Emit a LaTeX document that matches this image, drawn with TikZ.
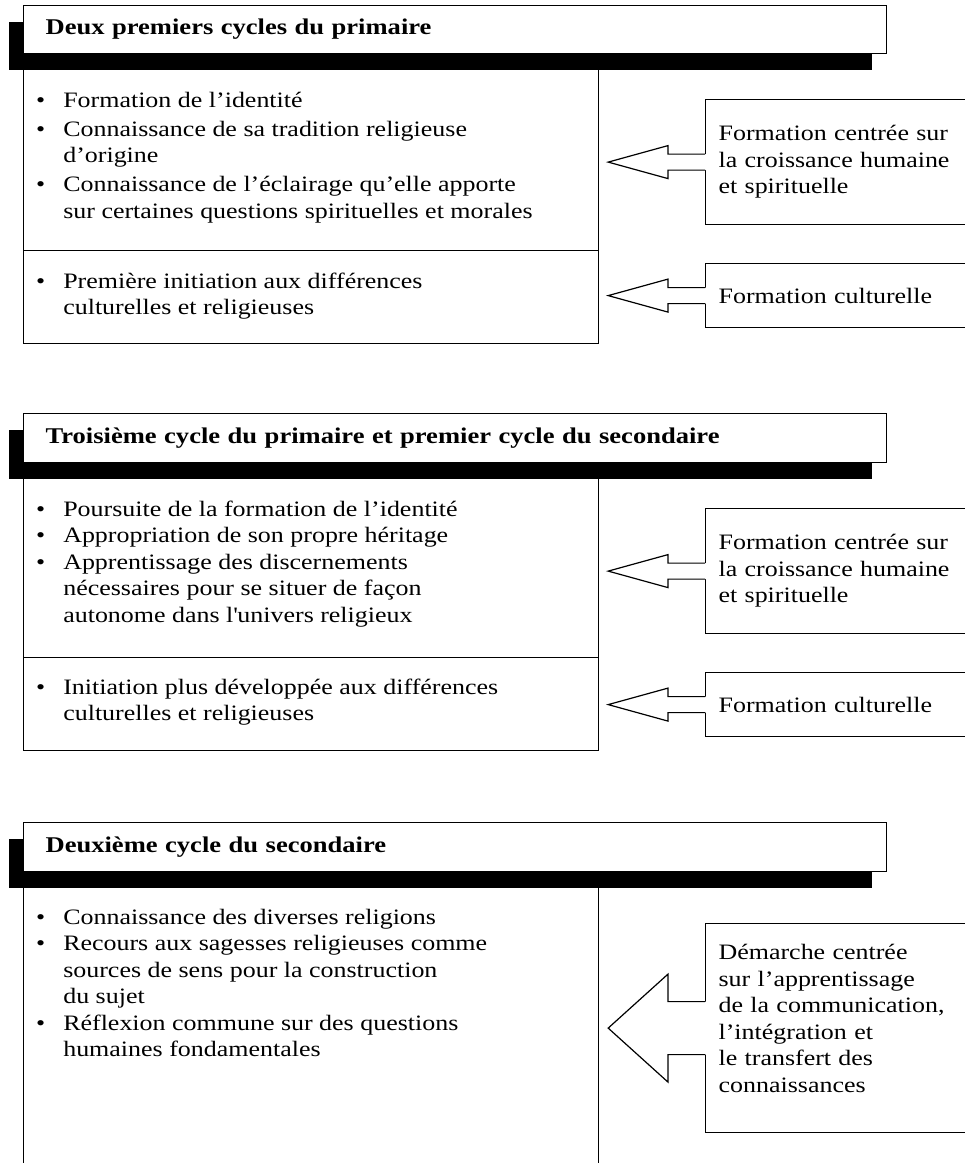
\documentclass[tikz,border=0pt]{standalone}
\usepackage{fontspec}
\setmainfont{Liberation Serif}[FakeStretch=1.18]
\usepackage{tikz}
\usetikzlibrary{calc}
\usetikzlibrary{shadows}
\tikzstyle{titlebox} = [draw, fill=white, line width=1.2pt, anchor=north west, minimum width=863pt, minimum height=48pt, text width=819pt, inner xsep=22pt, align=left, font=\bfseries\fontsize{22.5}{27}\selectfont, drop shadow={shadow xshift=-15pt, shadow yshift=-16pt, fill=black, opacity=1}]
\tikzstyle{part} = [draw, line width=1.2pt, anchor=north west, minimum width=575pt, inner sep=0pt]
\tikzstyle{items} = [anchor=base west, inner sep=0pt, font=\fontsize{22}{26.5}\selectfont]
\tikzstyle{aspect} = [draw, fill=white, line width=1.2pt, anchor=north west, minimum width=280pt, text width=254pt, inner xsep=13pt, align=left, font=\fontsize{22}{26.5}\selectfont]
% open arrow from an aspect box (#1) towards a part of the cycle (#2)
\newcommand{\openarrow}[4]{%
	\fill[white] ($(#1.west)+(1.5,-#4)$) -- ($(#1.west)+(-37,-#4)$) -- ($(#1.west)+(-37,-#3)$)
		-- ($(#2.east |- #1.west)+(9,0)$) -- ($(#1.west)+(-37,#3)$) -- ($(#1.west)+(-37,#4)$)
		-- ($(#1.west)+(1.5,#4)$) -- cycle;
	\draw[line width=1.2pt] ($(#1.west)+(0,-#4)$) -- ($(#1.west)+(-37,-#4)$) -- ($(#1.west)+(-37,-#3)$)
		-- ($(#2.east |- #1.west)+(9,0)$) -- ($(#1.west)+(-37,#3)$) -- ($(#1.west)+(-37,#4)$)
		-- ($(#1.west)+(0,#4)$);}

\begin{document}
\begin{tikzpicture}[x=1pt,y=-1pt]
	\useasboundingbox (0,0) rectangle (965,1163);
	\clip (0,0) rectangle (965,1163);

	% premier bloc
	\node[part, minimum height=181pt] (p1a) at (23,69) {};
	\node[part, minimum height=93pt] (p1b) at (23,250) {};
	\node[titlebox] (h1) at (23,5) {Deux premiers cycles du primaire};
	\node[items] (l1a) at (36,107) {\begin{tabular}[t]{@{}l@{\hspace{18pt}}l@{}}
		\textbullet & Formation de l’identité\\[2.5pt]
		\textbullet & Connaissance de sa tradition religieuse\\
		& d’origine\\[2.5pt]
		\textbullet & Connaissance de l’éclairage qu’elle apporte\\
		& sur certaines questions spirituelles et morales
		\end{tabular}};
	\node[items] (l1b) at (36,288) {\begin{tabular}[t]{@{}l@{\hspace{18pt}}l@{}}
		\textbullet & Première initiation aux différences\\
		& culturelles et religieuses
		\end{tabular}};
	\node[aspect, minimum height=125pt] (r1a) at (705,99) {Formation centrée sur\\la croissance humaine\\et spirituelle};
	\node[aspect, minimum height=64pt] (r1b) at (705,263) {Formation culturelle};
	\openarrow{r1a}{p1a}{16.5}{8}
	\openarrow{r1b}{p1b}{16.5}{8}

	% deuxieme bloc
	\node[part, minimum height=179pt] (p2a) at (23,478) {};
	\node[part, minimum height=93pt] (p2b) at (23,657) {};
	\node[titlebox, minimum height=49pt] (h2) at (23,413) {Troisième cycle du primaire et premier cycle du secondaire};
	\node[items] (l2a) at (36,516) {\begin{tabular}[t]{@{}l@{\hspace{18pt}}l@{}}
		\textbullet & Poursuite de la formation de l’identité\\
		\textbullet & Appropriation de son propre héritage\\
		\textbullet & Apprentissage des discernements\\
		& nécessaires pour se situer de façon\\
		& autonome dans l\textquotesingle univers religieux
		\end{tabular}};
	\node[items] (l2b) at (36,694) {\begin{tabular}[t]{@{}l@{\hspace{18pt}}l@{}}
		\textbullet & Initiation plus développée aux différences\\
		& culturelles et religieuses
		\end{tabular}};
	\node[aspect, minimum height=125pt] (r2a) at (705,508) {Formation centrée sur\\la croissance humaine\\et spirituelle};
	\node[aspect, minimum height=64pt] (r2b) at (705,672) {Formation culturelle};
	\openarrow{r2a}{p2a}{16.5}{8}
	\openarrow{r2b}{p2b}{16.5}{8}

	% troisieme bloc
	\node[part, minimum height=320pt] (p3a) at (23,887) {};
	\node[titlebox, minimum height=49pt] (h3) at (23,822) {Deuxième cycle du secondaire};
	\node[items] (l3a) at (36,924) {\begin{tabular}[t]{@{}l@{\hspace{18pt}}l@{}}
		\textbullet & Connaissance des diverses religions\\
		\textbullet & Recours aux sagesses religieuses comme\\
		& sources de sens pour la construction\\
		& du sujet\\
		\textbullet & Réflexion commune sur des questions\\
		& humaines fondamentales
		\end{tabular}};
	\node[aspect, minimum height=209pt] (r3) at (705,923) {Démarche centrée\\sur l’apprentissage\\de la communication,\\l’intégration et\\le transfert des\\connaissances\rule[-20pt]{0pt}{20pt}};
	\openarrow{r3}{p3a}{54}{26.5}
\end{tikzpicture}
\end{document}
